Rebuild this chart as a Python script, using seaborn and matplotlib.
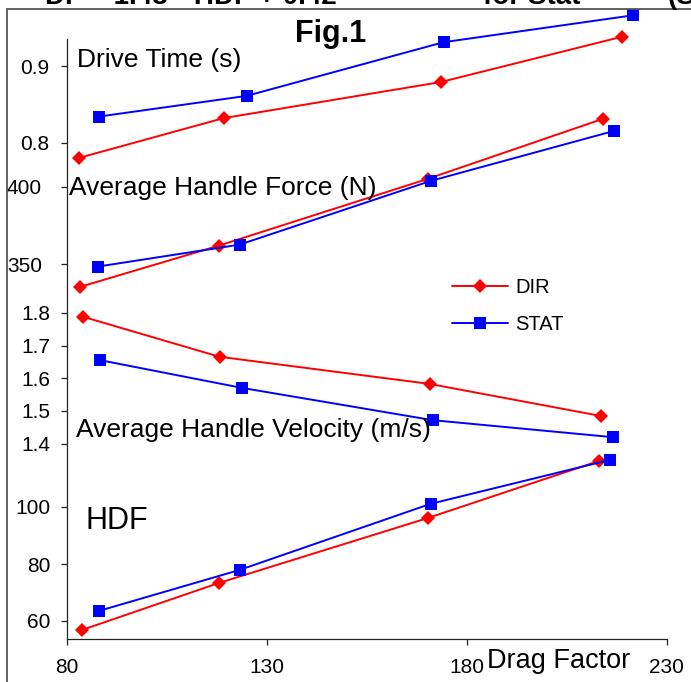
import numpy as np
import pandas as pd
import matplotlib
matplotlib.use("Agg")
import matplotlib.pyplot as plt
from matplotlib.lines import Line2D
from matplotlib.patches import Rectangle
import seaborn as sns

# ---------------- data ----------------
drive_dir_x = [83.0, 119.25, 173.5, 218.75]
drive_dir_y = [0.780, 0.832, 0.879, 0.938]
drive_stat_x = [88.0, 125.0, 174.25, 221.5]
drive_stat_y = [0.834, 0.861, 0.931, 0.966]

force_dir_x = [83.25, 118.0, 170.25, 214.0]
force_dir_y = [335.1, 361.8, 405.0, 443.8]
force_stat_x = [87.75, 123.25, 171.0, 216.75]
force_stat_y = [348.3, 362.5, 403.7, 436.0]

vel_dir_x = [84.0, 118.25, 170.75, 213.5]
vel_dir_y = [1.789, 1.666, 1.583, 1.485]
vel_stat_x = [88.25, 123.75, 171.5, 216.5]
vel_stat_y = [1.656, 1.571, 1.472, 1.420]

hdf_dir_x = [83.75, 118.0, 170.25, 213.0]
hdf_dir_y = [56.8, 73.3, 96.1, 116.1]
hdf_stat_x = [88.0, 123.25, 171.0, 215.75]
hdf_stat_y = [63.5, 77.9, 101.1, 116.5]

series_names = ["DIR", "STAT"]
drive_ticks = [0.8, 0.9]
force_ticks = [350, 400]
vel_ticks = [1.4, 1.5, 1.6, 1.7, 1.8]
hdf_ticks = [60, 80, 100]
x_ticks = [80, 130, 180, 230]

panel_titles = ["Drive Time (s)", "Average Handle Force (N)",
                "Average Handle Velocity (m/s)", "HDF"]

# ---------------- style ----------------
sns.set_theme(style="white")
plt.rcParams["font.family"] = ["Liberation Sans", "DejaVu Sans"]
plt.rcParams["text.color"] = "black"
plt.rcParams["axes.labelcolor"] = "black"
plt.rcParams["xtick.color"] = "black"
plt.rcParams["ytick.color"] = "black"

W, H = 691, 682
fig = plt.figure(figsize=(W / 100, H / 100), dpi=100)

# axes area in pixel coordinates (from top-left)
x_left_px, x_right_px = 66.5, 666.5
y_top_px, y_bot_px = 39.0, 639.0
pos = [x_left_px / W, 1 - y_bot_px / H, (x_right_px - x_left_px) / W,
       (y_bot_px - y_top_px) / H]


def lims(v1, p1, v2, p2):
    s = (v1 - v2) / (p2 - p1)
    bottom = v1 - (y_bot_px - p1) * s
    top = v1 + (p1 - y_top_px) * s
    return bottom, top


panels = [
    (drive_dir_x, drive_dir_y, drive_stat_x, drive_stat_y, drive_ticks,
     lims(0.9, 66.0, 0.8, 142.7), 8, "{:.1f}"),
    (force_dir_x, force_dir_y, force_stat_x, force_stat_y, force_ticks,
     lims(400, 186.7, 350, 264.0), 13.5, "{:.0f}"),
    (vel_dir_x, vel_dir_y, vel_stat_x, vel_stat_y, vel_ticks,
     lims(1.8, 313.0, 1.5, 411.0), 7, "{:.1f}"),
    (hdf_dir_x, hdf_dir_y, hdf_stat_x, hdf_stat_y, hdf_ticks,
     lims(100, 507.0, 60, 621.0), 7, "{:.0f}"),
]

palette = {"DIR": "#FF0000", "STAT": "#0000FF"}
markers = {"DIR": "D", "STAT": "s"}
msize = {"D": 7.0, "s": 8.0}

axes = []
for i, (dx, dy, sx, sy, ticks, ylim, pad, fmt) in enumerate(panels):
    ax = fig.add_axes(pos)
    ax.patch.set_alpha(0)
    df = pd.DataFrame({
        "x": list(dx) + list(sx),
        "y": list(dy) + list(sy),
        "series": [series_names[0]] * len(dx) + [series_names[1]] * len(sx),
    })
    sns.lineplot(data=df, x="x", y="y", hue="series", style="series",
                 palette=palette, markers=markers, dashes=False,
                 estimator=None, sort=False, legend=False, ax=ax,
                 linewidth=1.4, markeredgewidth=0, clip_on=False)
    for ln in ax.lines:
        ln.set_markersize(msize.get(ln.get_marker(), 7.0))
        ln.set_clip_on(False)
    ax.set_xlim(80, 230)
    ax.set_ylim(*ylim)
    ax.set_yticks(ticks)
    ax.set_yticklabels([fmt.format(t) for t in ticks])
    ax.tick_params(axis="y", which="major", left=True, direction="out",
                   length=4.3, width=0.9, color="#222222", pad=pad,
                   labelsize=15, labelcolor="black")
    ax.set_xlabel("")
    ax.set_ylabel("")
    for sp in ax.spines.values():
        sp.set_visible(False)
    if i < 3:
        ax.set_xticks([])
    axes.append(ax)

# bottom axes carries axes lines and x ticks
axb = axes[-1]
axb.spines["left"].set_visible(True)
axb.spines["bottom"].set_visible(True)
for s in ("left", "bottom"):
    axb.spines[s].set_color("#222222")
    axb.spines[s].set_linewidth(0.9)
axb.set_xticks(x_ticks)
axb.set_xticklabels([str(t) for t in x_ticks])
axb.tick_params(axis="x", bottom=True, direction="out", length=4.3,
                width=0.9, color="#222222", pad=9.5, labelsize=15,
                labelcolor="black")

# panel captions
fig.text(77 / W, 1 - 67 / H, panel_titles[0], fontsize=19, va="baseline")
fig.text(69 / W, 1 - 195 / H, panel_titles[1], fontsize=19, va="baseline")
fig.text(76 / W, 1 - 437 / H, panel_titles[2], fontsize=19, va="baseline")
fig.text(85 / W, 1 - 529 / H, panel_titles[3], fontsize=22, va="baseline")
fig.text(295 / W, 1 - 42 / H, "Fig.1", fontsize=22, fontweight="bold",
         va="baseline")
fig.text(487 / W, 1 - 668 / H, "Drag Factor", fontsize=19.5, va="baseline")

# cut-off header line at the very top (only its lower edge is in view)
fig.text(45 / W, 1 - 4.5 / H, "DF = 1.48 * HDF + 0.42", fontsize=20,
         fontweight="bold", va="baseline")
fig.text(483 / W, 1 - 4.5 / H, "for Stat", fontsize=20, fontweight="bold",
         va="baseline")
fig.text(668 / W, 1 - 4.5 / H, "(S", fontsize=20, fontweight="bold",
         va="baseline")

# outer chart frame (left and top edges visible)
fig.patches.append(Rectangle((7 / W, -0.1), 1.2, (1 - 9 / H) + 0.1,
                             transform=fig.transFigure, fill=False,
                             edgecolor="#555555", linewidth=1.3))

# legend
handles = [Line2D([], [], color=palette[n], marker=markers[n],
                  markersize=msize[markers[n]],
                  markeredgewidth=0, linewidth=1.4) for n in series_names]
fig.legend(handles, series_names, loc="center left",
           bbox_to_anchor=(452 / W, 1 - 306 / H), frameon=False,
           fontsize=14.5, handlelength=2.8, handletextpad=0.35,
           labelspacing=0.85, borderpad=0, borderaxespad=0,
           labelcolor="black")

fig.savefig("out.png", dpi=100)
